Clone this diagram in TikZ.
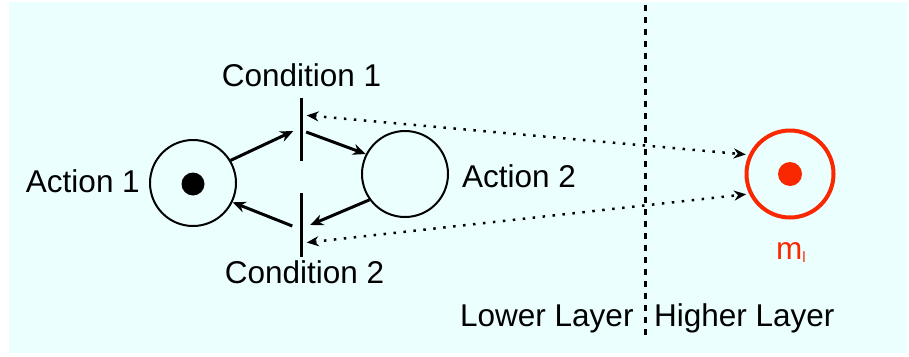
\documentclass[tikz,border=0pt]{standalone}
\usepackage{fontspec}
\setmainfont{Liberation Sans}
\usetikzlibrary{arrows.meta}
\definecolor{bgcyan}{RGB}{235,255,255}
\definecolor{markred}{RGB}{250,40,0}
\begin{document}
\begin{tikzpicture}[x=1pt,y=-1pt,
  lbl/.style={font=\fontsize{31.5}{36}\selectfont, inner sep=0pt},
  place/.style={circle, draw, line width=2pt, minimum size=86pt, inner sep=0pt},
  token/.style={circle, fill, minimum size=23pt, inner sep=0pt},
  trans/.style={rectangle, fill=black, minimum width=3pt, inner sep=0pt},
  arr/.style={line width=3pt, -{Stealth[length=13pt,width=11pt]}},
  link/.style={line width=2.5pt, dash pattern=on 2.5pt off 7.5pt,
    {Stealth[length=12pt,width=10pt]}-{Stealth[length=12pt,width=10pt]}}
]
\useasboundingbox (0,0) rectangle (909,356);
\fill[bgcyan] (9,2) rectangle (907,353);

% layer divider
\draw[line width=3pt, dash pattern=on 5.5pt off 6.5pt] (645,5) -- (645,340);

% places and transitions of the lower layer
\node[place] (a1) at (193,183) {};
\node[token] (t1) at (193,184) {};
\node[place] (a2) at (405,174) {};
\node[trans, minimum height=63pt] (c1) at (301,129.5) {};
\node[trans, minimum height=64pt] (c2) at (301,225) {};

% higher-layer marking
\node[place, draw=markred, line width=4pt, minimum size=87pt] (ml) at (790,174) {};
\node[token, fill=markred, minimum size=24pt] (mt) at (790,174) {};

% labels
\node[lbl, anchor=base east] (l1) at (140,192) {Action 1};
\node[lbl, anchor=base west] (l2) at (462,187) {Action 2};
\node[lbl, anchor=base] (lc1) at (301.5,86) {Condition 1};
\node[lbl, anchor=base] (lc2) at (304.5,283) {Condition 2};
\node[lbl, anchor=base west] (lo) at (460,326) {Lower Layer};
\node[lbl, anchor=base west] (hi) at (654,326) {Higher Layer};
\node[lbl, anchor=base, text=markred] (mlab) at (791,259) {m\raisebox{-3pt}{\fontsize{15}{16}\selectfont l}};

% firing arcs
\draw[arr] (a1.31) -- ([xshift=-6pt,yshift=-1.5pt]c1.west);
\draw[arr] ([xshift=3.5pt,yshift=-2.5pt]c1.east) -- (a2.153);
\draw[arr] (a2.216) -- ([xshift=7.5pt]c2.east);
\draw[arr] ([xshift=-7pt,yshift=-1pt]c2.west) -- (a1.334);

% links between layers
\draw[link, shorten <=4pt, shorten >=3pt] ([yshift=14.5pt]c1.east) -- (ml.155);
\draw[link, shorten <=4pt, shorten >=3pt] ([yshift=-18pt]c2.east) -- (ml.206);
\end{tikzpicture}
\end{document}
